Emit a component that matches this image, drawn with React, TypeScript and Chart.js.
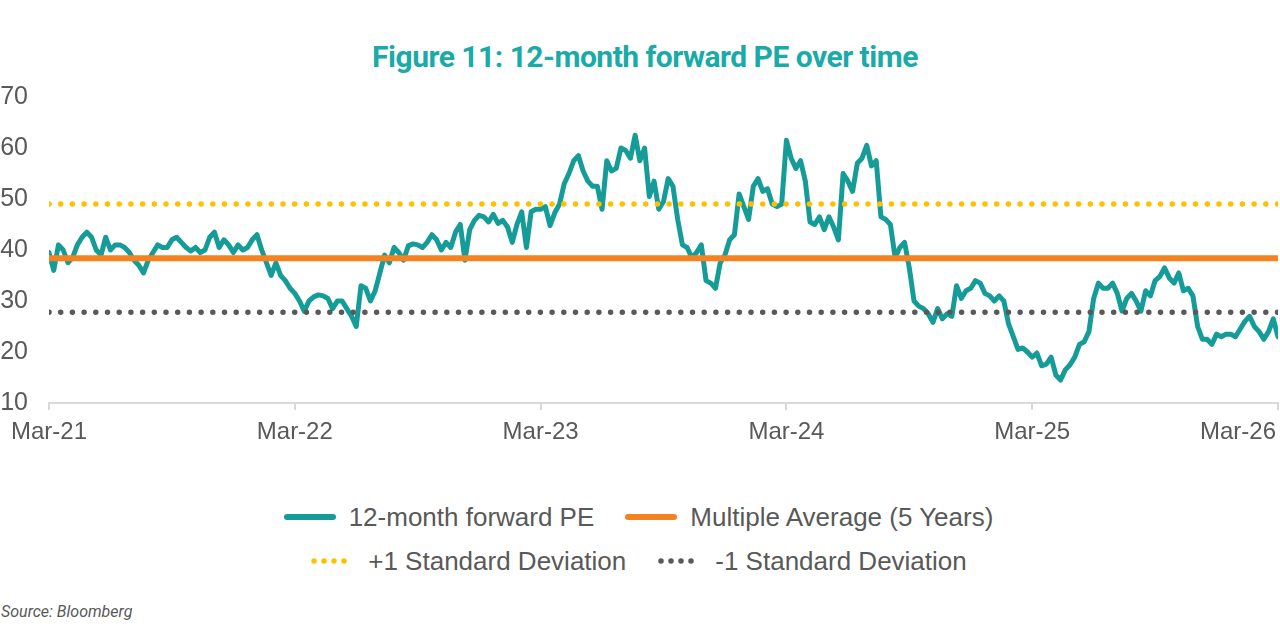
import React, { useEffect, useRef } from "react";
import { Chart, registerables } from "chart.js";

Chart.register(...registerables);

// Weekly 12-month forward PE, week 0 = Mar-21, week 260 = Mar-26
const peValues: number[] = [
  39.5, 36.0, 41.0, 40.0, 37.5, 38.5, 41.0, 42.5, 43.5, 42.5,
  40.0, 39.0, 42.5, 40.0, 41.0, 41.0, 40.5, 39.5, 38.0, 37.0,
  35.5, 38.0, 39.5, 41.0, 40.5, 40.5, 42.0, 42.5, 41.5, 40.5,
  39.8, 40.5, 39.5, 40.0, 42.5, 43.5, 40.5, 42.0, 41.0, 39.5,
  41.0, 40.0, 40.5, 42.0, 43.0, 40.0, 37.5, 35.0, 37.5, 35.0,
  34.0, 32.5, 31.5, 30.0, 28.0, 30.0, 30.8, 31.2, 31.0, 30.5,
  28.5, 30.0, 30.0, 28.5, 27.0, 25.0, 33.0, 32.5, 30.0, 32.0,
  35.5, 39.0, 37.5, 40.5, 39.5, 38.0, 40.8, 41.2, 41.0, 40.5,
  41.5, 43.0, 42.0, 40.0, 41.5, 40.5, 43.5, 45.0, 38.0, 44.0,
  45.8, 46.8, 46.5, 45.5, 47.0, 45.2, 45.8, 44.5, 41.5, 45.0,
  47.5, 40.5, 47.5, 48.0, 48.0, 48.5, 44.8, 47.3, 49.0, 53.0,
  55.0, 57.5, 58.5, 55.5, 53.5, 52.5, 52.5, 48.0, 57.5, 55.5,
  56.0, 60.0, 59.5, 58.0, 62.5, 57.5, 60.0, 50.5, 53.5, 48.0,
  49.5, 54.0, 52.5, 46.0, 41.0, 40.5, 38.5, 39.5, 41.0, 34.0,
  33.5, 32.5, 37.5, 39.0, 42.0, 43.0, 51.0, 48.5, 46.0, 52.5,
  54.0, 51.5, 52.0, 49.0, 48.5, 49.0, 61.5, 58.0, 56.0, 57.5,
  53.5, 45.5, 45.0, 46.5, 44.0, 46.5, 44.5, 42.0, 55.0, 53.5,
  51.5, 57.0, 58.0, 60.5, 56.5, 57.5, 46.5, 46.0, 45.0, 38.5,
  40.5, 41.5, 36.5, 30.0, 29.0, 28.5, 27.5, 25.8, 28.5, 26.5,
  27.5, 27.0, 33.0, 30.5, 32.0, 32.5, 34.0, 33.5, 31.5, 31.0,
  30.0, 31.0, 30.0, 25.5, 23.0, 20.5, 20.8, 20.0, 19.0, 19.8,
  17.3, 17.6, 19.0, 15.5, 14.5, 16.5, 17.5, 19.0, 21.5, 22.0,
  24.0, 30.5, 33.5, 32.5, 32.5, 33.5, 31.5, 28.0, 30.5, 31.5,
  30.0, 28.0, 32.0, 31.0, 34.0, 34.8, 36.5, 34.5, 33.5, 35.5,
  32.0, 32.5, 31.0, 25.0, 22.5, 22.5, 21.5, 23.5, 23.0, 23.5,
  23.5, 23.0, 24.5, 26.0, 27.0, 25.0, 24.0, 22.5, 24.0, 26.5,
  23.0,
];

const xTickLabels: string[] = ["Mar-21", "Mar-22", "Mar-23", "Mar-24", "Mar-25", "Mar-26"];
const weeksPerYear = 52;

const multipleAverage = 38.4;
const plusOneSD = 49.0;
const minusOneSD = 27.8;

const yTicks: number[] = [10, 20, 30, 40, 50, 60, 70];

const seriesNames: string[] = [
  "12-month forward PE",
  "Multiple Average (5 Years)",
  "+1 Standard Deviation",
  "-1 Standard Deviation",
];

const TEAL = "#169C98";
const ORANGE = "#F58220";
const YELLOW = "#FFC000";
const GREY = "#595959";
const AXIS = "#D9D9D9";

const xLabelPlugin = {
  id: "xLabelPlugin",
  afterDraw(chart: any) {
    const s = chart.scales.x;
    const ctx = chart.ctx;
    ctx.save();
    ctx.font = '24px "Liberation Sans", Arial, sans-serif';
    ctx.fillStyle = GREY;
    ctx.textBaseline = "middle";
    const ticks = s.ticks;
    ticks.forEach((t: any, i: number) => {
      const label = xTickLabels[Math.round(t.value / weeksPerYear)];
      if (!label) return;
      let x = s.getPixelForValue(t.value);
      if (i === ticks.length - 1) {
        ctx.textAlign = "right";
        x = Math.min(x, chart.width - 4);
      } else {
        ctx.textAlign = "center";
      }
      ctx.fillText(label, x, 432);
    });
    ctx.restore();
  },
};

function Swatch({ color, dotted, width }: { color: string; dotted: boolean; width: number }) {
  return (
    <svg width={width} height={14} style={{ display: "block" }}>
      {dotted ? (
        <line x1={4} y1={7} x2={width - 3} y2={7} stroke={color} strokeWidth={5.5}
          strokeLinecap="round" strokeDasharray="0 10" />
      ) : (
        <line x1={3} y1={7} x2={width - 3} y2={7} stroke={color} strokeWidth={6} strokeLinecap="round" />
      )}
    </svg>
  );
}

export default function App() {
  const canvasRef = useRef<HTMLCanvasElement | null>(null);

  useEffect(() => {
    if (!canvasRef.current) return;
    const lastX = (xTickLabels.length - 1) * weeksPerYear;
    const flat = (v: number) => [
      { x: 0, y: v },
      { x: lastX, y: v },
    ];
    const chart = new Chart(canvasRef.current, {
      type: "line",
      data: {
        datasets: [
          {
            label: seriesNames[1],
            data: flat(multipleAverage),
            borderColor: ORANGE,
            borderWidth: 6,
            pointRadius: 0,
            order: 0,
          },
          {
            label: seriesNames[2],
            data: flat(plusOneSD),
            borderColor: YELLOW,
            borderWidth: 5.5,
            borderDash: [0, 11.7],
            borderCapStyle: "round",
            pointRadius: 0,
            order: 1,
          },
          {
            label: seriesNames[3],
            data: flat(minusOneSD),
            borderColor: GREY,
            borderWidth: 5.5,
            borderDash: [0, 11.7],
            borderCapStyle: "round",
            pointRadius: 0,
            order: 2,
          },
          {
            label: seriesNames[0],
            data: peValues.map((v, i) => ({ x: i, y: v })),
            borderColor: TEAL,
            borderWidth: 5,
            borderJoinStyle: "round",
            borderCapStyle: "round",
            pointRadius: 0,
            tension: 0,
            order: 10,
          },
        ],
      },
      options: {
        animation: false,
        responsive: true,
        maintainAspectRatio: false,
        layout: { padding: { top: 97, right: 2, left: 0, bottom: 0 } },
        plugins: {
          legend: { display: false },
          title: { display: false },
          tooltip: { enabled: false },
        },
        scales: {
          x: {
            type: "linear",
            min: 0,
            max: lastX,
            ticks: { stepSize: weeksPerYear, display: false },
            grid: {
              display: true,
              drawOnChartArea: false,
              drawTicks: true,
              tickLength: 7,
              color: AXIS,
              lineWidth: 2,
            },
            border: { display: true, color: AXIS, width: 2 },
            afterFit: (scale: any) => {
              scale.height = 57;
              scale.paddingLeft = 0;
              scale.paddingRight = 0;
            },
          },
          y: {
            min: yTicks[0],
            max: yTicks[yTicks.length - 1],
            afterBuildTicks: (scale: any) => {
              scale.ticks = yTicks.map((v) => ({ value: v }));
            },
            ticks: {
              color: GREY,
              font: { family: '"Liberation Sans", Arial, sans-serif', size: 25 },
              padding: 21,
            },
            grid: { display: false, drawTicks: false },
            border: { display: false },
            afterFit: (scale: any) => {
              scale.width = 49;
            },
          },
        },
      },
      plugins: [xLabelPlugin],
    } as any);
    return () => chart.destroy();
  }, []);

  const legendText: React.CSSProperties = {
    fontFamily: '"Liberation Sans", Arial, sans-serif',
    fontSize: 26,
    color: GREY,
    whiteSpace: "nowrap",
  };
  const item: React.CSSProperties = { display: "flex", alignItems: "center", gap: 13 };
  const row: React.CSSProperties = {
    position: "absolute",
    left: 0,
    width: 1277,
    display: "flex",
    justifyContent: "center",
    alignItems: "center",
    gap: 31,
  };

  return (
    <div style={{ position: "fixed", left: 0, top: 0, width: 1280, height: 635, background: "#fff", overflow: "hidden" }}>
      <div
        style={{
          position: "absolute",
          top: 37,
          left: 0,
          width: 1290,
          textAlign: "center",
          fontFamily: "Roboto, 'Noto Sans', sans-serif",
          fontWeight: 700,
          fontSize: 30,
          letterSpacing: -0.5,
          color: "#1AAAA8",
          lineHeight: "40px",
        }}
      >
        Figure 11: 12-month forward PE over time
      </div>
      <div style={{ position: "absolute", left: 0, top: 0, width: 1280, height: 460 }}>
        <canvas ref={canvasRef} />
      </div>
      <div style={{ ...row, top: 500, height: 34 }}>
        <div style={item}>
          <Swatch color={TEAL} dotted={false} width={52} />
          <span style={legendText}>{seriesNames[0]}</span>
        </div>
        <div style={item}>
          <Swatch color={ORANGE} dotted={false} width={52} />
          <span style={legendText}>{seriesNames[1]}</span>
        </div>
      </div>
      <div style={{ ...row, top: 544, height: 34 }}>
        <div style={{ ...item, gap: 18 }}>
          <Swatch color={YELLOW} dotted={true} width={40} />
          <span style={legendText}>{seriesNames[2]}</span>
        </div>
        <div style={{ ...item, gap: 18 }}>
          <Swatch color={GREY} dotted={true} width={40} />
          <span style={legendText}>{seriesNames[3]}</span>
        </div>
      </div>
      <div
        style={{
          position: "absolute",
          left: 1,
          top: 602,
          fontFamily: "Roboto, 'Noto Sans', sans-serif",
          fontStyle: "italic",
          fontSize: 16,
          color: GREY,
          lineHeight: "20px",
        }}
      >
        Source: Bloomberg
      </div>
    </div>
  );
}
